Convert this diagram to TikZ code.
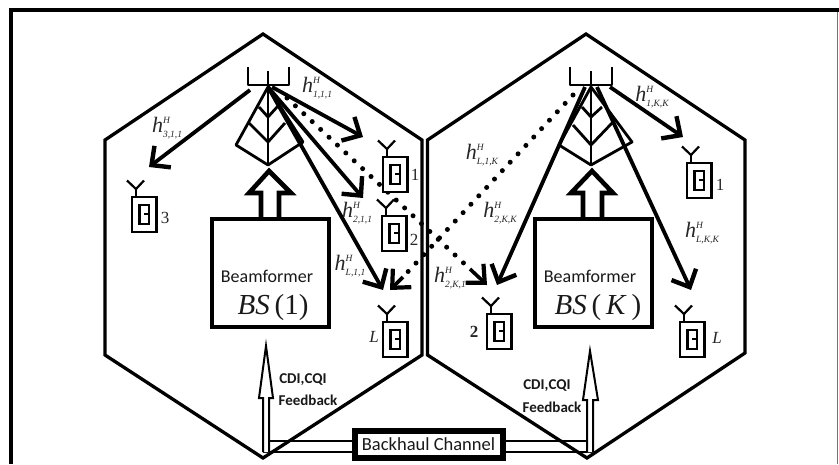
\documentclass[tikz,border=0pt]{standalone}
\usepackage{fontspec}
\setmainfont{Liberation Serif}
\newfontfamily\cali{Carlito}
\usetikzlibrary{arrows.meta}
\newcommand{\hlab}[1]{\textit{h}\rlap{\raisebox{9pt}{\fontsize{9.5}{10}\selectfont\itshape H}}\raisebox{-5pt}{\fontsize{9.5}{10}\selectfont\itshape #1}}
\tikzset{
  hexline/.style={line width=3.3pt,line join=miter},
  towerline/.style={line width=2.8pt,line join=round},
  beam/.style={line width=3.8pt,-{Straight Barb[length=14pt,width=27pt,line width=4.4pt]}},
  dotbeam/.style={line width=5pt,line cap=round,dash pattern=on 0pt off 11.5pt},
  dothead/.style={line width=3.6pt,-{Straight Barb[length=14pt,width=26pt,line width=4.2pt]}},
  fatarrow/.style={line width=4.6pt,line join=miter,fill=white},
  bfbox/.style={draw,line width=4pt,fill=white,minimum width=117pt,minimum height=108pt,inner sep=0pt},
  chan/.style={text=black!85,inner sep=0pt,font=\fontsize{22}{24}\selectfont},
  bflabel/.style={text=black!90,inner sep=0pt,font=\cali\fontsize{18}{20}\selectfont},
  bslabel/.style={text=black!90,inner sep=0pt,font=\fontsize{29}{30}\selectfont},
  fblabel/.style={text=black!90,inner sep=0pt,font=\cali\bfseries\fontsize{15}{18}\selectfont},
  userlabel/.style={text=black!85,inner sep=0pt,font=\fontsize{17}{18}\selectfont},
  hollow/.style={line width=2pt,line join=miter,fill=white},
  phone/.pic={
    \draw[line width=2.2pt,fill=white] (0,0) rectangle (24.5,35);
    \draw[line width=2.8pt] (7.5,8) rectangle (17,27);
    \draw[line width=2.2pt] (12,17) -- (17,17);
    \draw[line width=2.2pt,line join=miter] (-5,-16.5) -- (4,-8) -- (12,-16.5);
    \draw[line width=2.2pt] (4,-8) -- (4,0);
  }
}
\begin{document}
\begin{tikzpicture}[x=1pt,y=-1pt]
\useasboundingbox (0,0) rectangle (839,464);
\fill[white] (0,0) rectangle (839,464);
% frame
\coordinate (fbl) at (11,464); \coordinate (ftl) at (11,10);
\coordinate (ftr) at (837.5,10); \coordinate (fbr) at (837.5,464);
\draw[line width=1pt,black!55] (ftr) -- (fbr);
\draw[line width=3.8pt] (fbl) -- (ftl) -- (839,10);
% hexagons
\draw[hexline] (263,34) -- (422,140) -- (422,355) -- (263,458) -- (105,355) -- (105,140) -- cycle;
\draw[hexline] (586,34) -- (745,140) -- (745,353) -- (587,458) -- (427.5,355) -- (427.5,140) -- cycle;
% tower 1
\coordinate (a1) at (268,87);
\draw[towerline] (248,67) -- (248,85) -- (289,85) -- (289,67);
\draw[towerline] (268,71) -- (268,165);
\draw[towerline] (a1) -- (236,145) -- (268,165) -- (303,142) -- cycle;
\draw[towerline] (248,122) -- (268,142) -- (285,123);
\draw[towerline] (259,107) -- (268,117) -- (278,106);
% tower 2
\coordinate (a2) at (591,87);
\draw[towerline] (570,67) -- (570,85) -- (612,85) -- (612,67);
\draw[towerline] (591,71) -- (591,165);
\draw[towerline] (a2) -- (559,145) -- (591,165) -- (632,142) -- cycle;
\draw[towerline] (573,125) -- (591,145) -- (613,122);
\draw[towerline] (582,107) -- (591,117) -- (602,107);
% up arrows
\draw[fatarrow] (261,218) -- (261,193) -- (249,193) -- (269,171) -- (291,193) -- (279,193) -- (279,218);
\draw[fatarrow] (583,218) -- (583,193) -- (571,193) -- (592,171) -- (613,193) -- (602,193) -- (602,218);
% beamformer boxes
\node[bfbox] (bf1) at (270.5,273) {};
\node[bfbox] (bf2) at (593,273) {};
\node[bflabel] (bft1) at (267,276) {Beamformer};
\node[bflabel] (bft2) at (590,276) {Beamformer};
\node[bslabel] (bs1) at (273,308) {\textit{BS}\,(1)};
\node[bslabel] (bs2) at (598,308) {\textit{BS}\,(\,\textit{K}\,)};
% beam ends
\coordinate (e13) at (149,167); \coordinate (s13) at (250,90);
\coordinate (e11) at (363,137); \coordinate (s11) at (272,87);
\coordinate (e12) at (363,198);
\coordinate (e1L) at (383,290);
\coordinate (e22) at (497,285);
\coordinate (e21) at (683,137); \coordinate (s21) at (610,87);
\coordinate (e2L) at (691,290); \coordinate (s2L) at (597,87);
\coordinate (s22) at (585,87);
\coordinate (d1s) at (287,98); \coordinate (d1e) at (487,285);
\coordinate (d2s) at (573,95); \coordinate (d2e) at (390,290);
\coordinate (d1h) at (470,269); \coordinate (d2h) at (403,277);
\draw[beam] (s13) -- (e13);
\draw[beam] (s11) -- (e11);
\draw[beam] (a1) -- (e12);
\draw[beam] (a1) -- (e1L);
\draw[beam] (s21) -- (e21);
\draw[beam] (s22) -- (e22);
\draw[beam] (s2L) -- (e2L);
\draw[dotbeam] (d1s) -- (d1h);
\draw[dotbeam] (d2s) -- (d2h);
\draw[dothead] (d1h) -- (d1e);
\draw[dothead] (d2h) -- (d2e);
% users
\pic at (383,157) {phone};
\pic at (382,216) {phone};
\pic at (132,197) {phone};
\pic at (383,322) {phone};
\pic at (487,314) {phone};
\pic at (687,163) {phone};
\pic at (680,322) {phone};
\node[userlabel] (u1) at (415,175) {1};
\node[userlabel] (u2) at (414,240) {2};
\node[userlabel] (u3) at (165,218) {3};
\node[userlabel] (uL) at (374,337) {\itshape L};
\node[userlabel] (v2) at (474,332) {\bfseries 2};
\node[userlabel] (v1) at (720,185) {1};
\node[userlabel] (vL) at (717,338) {\itshape L};
% channel labels
\node[chan] (h111) at (317,88) {\hlab{1,1,1}};
\node[chan] (h311) at (167,128) {\hlab{3,1,1}};
\node[chan] (h211) at (357,213) {\hlab{2,1,1}};
\node[chan] (hL11) at (350,266) {\hlab{L,1,1}};
\node[chan] (h1KK) at (652,97) {\hlab{1,K,K}};
\node[chan] (hL1K) at (482,155) {\hlab{L,1,K}};
\node[chan] (h2KK) at (500,213) {\hlab{2,K,K}};
\node[chan] (hLKK) at (702,233) {\hlab{L,K,K}};
\node[chan] (h2K1) at (450,278) {\hlab{2,K,1}};
% backhaul
\node[draw,line width=6pt,fill=white,minimum width=148pt,minimum height=27pt,inner sep=0pt,text=black!90,font=\cali\fontsize{18.5}{20}\selectfont] (bh) at (428.5,444) {Backhaul Channel};
\draw[line width=2pt] (263,441) -- (bh.west |- 0,441) (263,452) -- (bh.west |- 0,452);
\draw[line width=2pt] (bh.east |- 0,441) -- (593,441) (bh.east |- 0,452) -- (593,452);
\draw[hollow] (263,452) -- (263,398) -- (259,398) -- (266,346) -- (273,398) -- (269,398) -- (269,452);
\draw[hollow] (587,452) -- (587,400) -- (583,400) -- (590,351) -- (598,400) -- (593,400) -- (593,452);
\node[fblabel] (c1) at (303,380) {CDI,CQI};
\node[fblabel] (f1) at (308,400) {Feedback};
\node[fblabel] (c2) at (547,386) {CDI,CQI};
\node[fblabel] (f2) at (552,407) {Feedback};
\end{tikzpicture}
\end{document}
